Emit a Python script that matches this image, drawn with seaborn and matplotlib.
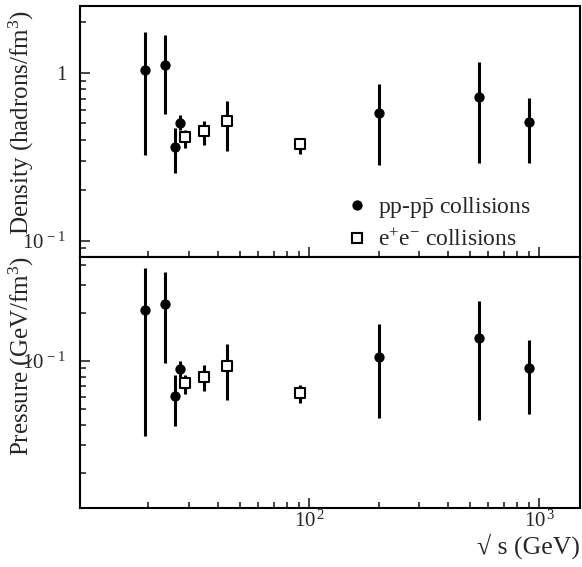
import matplotlib
matplotlib.use("Agg")
import matplotlib.pyplot as plt
from matplotlib.lines import Line2D
from matplotlib.ticker import FixedLocator, FixedFormatter, LogLocator, NullFormatter
import numpy as np
import pandas as pd
import seaborn as sns

# sqrt(s) in GeV
pp_energy = [19.4, 23.7, 26.0, 27.4, 200.0, 546.0, 900.0]
ee_energy = [29.0, 35.0, 44.0, 91.0]

# density (hadrons/fm^3): central value, lower and upper end of the error bar
pp_density = [1.04, 1.12, 0.362, 0.502, 0.575, 0.721, 0.506]
pp_density_lo = [0.323, 0.567, 0.254, 0.458, 0.282, 0.291, 0.291]
pp_density_hi = [1.75, 1.67, 0.471, 0.557, 0.857, 1.157, 0.706]
ee_density = [0.412, 0.448, 0.513, 0.377]
ee_density_lo = [0.357, 0.373, 0.341, 0.329]
ee_density_hi = [0.458, 0.518, 0.68, 0.409]

# pressure (GeV/fm^3)
pp_pressure = [0.208, 0.229, 0.0607, 0.0891, 0.1064, 0.1405, 0.0908]
pp_pressure_lo = [0.034, 0.0967, 0.0393, 0.0798, 0.0438, 0.0428, 0.0464]
pp_pressure_hi = [0.385, 0.361, 0.0818, 0.1005, 0.170, 0.238, 0.135]
ee_pressure = [0.0726, 0.0798, 0.0934, 0.0628]
ee_pressure_lo = [0.0622, 0.065, 0.057, 0.0544]
ee_pressure_hi = [0.0818, 0.0944, 0.129, 0.0708]

# ticks
energy_ticks = [100, 1000]
energy_ticklabels = [r'$10^{\,2}$', r'$10^{\,3}$']
density_ticks = [0.1, 1]
density_ticklabels = [r'$10^{\,-1}$', '1']
pressure_ticks = [0.1]
pressure_ticklabels = [r'$10^{\,-1}$']

sns.set_style("ticks")
plt.rcParams['font.family'] = ['Liberation Serif', 'DejaVu Serif']
plt.rcParams['mathtext.fontset'] = 'custom'
plt.rcParams['mathtext.rm'] = 'Liberation Serif'
plt.rcParams['mathtext.it'] = 'Liberation Serif:italic'
plt.rcParams['mathtext.bf'] = 'Liberation Serif:bold'


def draw_panel(ax, pp_y, pp_lo, pp_hi, ee_y, ee_lo, ee_hi):
    pp = pd.DataFrame({'energy': pp_energy, 'y': pp_y, 'lo': pp_lo, 'hi': pp_hi})
    ee = pd.DataFrame({'energy': ee_energy, 'y': ee_y, 'lo': ee_lo, 'hi': ee_hi})
    for df in (pp, ee):
        yerr = [df['y'] - df['lo'], df['hi'] - df['y']]
        ax.errorbar(df['energy'], df['y'], yerr=yerr, fmt='none', ecolor='black',
                    elinewidth=2.2, capsize=0, zorder=2)
    sns.scatterplot(data=pp, x='energy', y='y', ax=ax, marker='o', s=55,
                    color='black', linewidth=0, legend=False, zorder=3)
    sns.scatterplot(data=ee, x='energy', y='y', ax=ax, marker='s', s=44,
                    facecolor='white', edgecolor='black', linewidth=1.5,
                    legend=False, zorder=3)
    ax.set_xscale('log')
    ax.set_yscale('log')
    ax.set_xlim(10.1, 1500)
    ax.xaxis.set_major_locator(FixedLocator(energy_ticks))
    ax.xaxis.set_minor_locator(LogLocator(base=10, subs=np.arange(2, 10), numticks=20))
    ax.yaxis.set_minor_locator(LogLocator(base=10, subs=np.arange(2, 10), numticks=20))
    ax.xaxis.set_minor_formatter(NullFormatter())
    ax.yaxis.set_minor_formatter(NullFormatter())
    ax.tick_params(which='both', direction='in', top=False, right=False, width=1.2,
                   labelsize=15)
    ax.tick_params(which='major', length=7.5)
    ax.tick_params(which='minor', length=4.5)
    ax.tick_params(axis='y', which='major', pad=10)
    ax.tick_params(axis='x', which='major', pad=2)
    for sp in ax.spines.values():
        sp.set_linewidth(1.5)
        sp.set_color('black')
    ax.set_xlabel('')


fig = plt.figure(figsize=(5.82, 5.67), dpi=100)
ax_top = fig.add_axes([80 / 582, 310 / 567, 500 / 582, 251 / 567])
ax_bot = fig.add_axes([80 / 582, 59 / 567, 500 / 582, 251 / 567])

draw_panel(ax_top, pp_density, pp_density_lo, pp_density_hi,
           ee_density, ee_density_lo, ee_density_hi)
draw_panel(ax_bot, pp_pressure, pp_pressure_lo, pp_pressure_hi,
           ee_pressure, ee_pressure_lo, ee_pressure_hi)

ax_top.set_ylim(0.08, 2.5)
ax_top.yaxis.set_major_locator(FixedLocator(density_ticks))
ax_top.yaxis.set_major_formatter(FixedFormatter(density_ticklabels))
ax_top.tick_params(axis='x', labelbottom=False)
ax_top.set_ylabel(r'Density (hadrons/fm$^{3}$)', fontsize=18)
ax_top.yaxis.set_label_coords(-0.088, 0.536)

ax_bot.set_ylim(0.012, 0.45)
ax_bot.yaxis.set_major_locator(FixedLocator(pressure_ticks))
ax_bot.yaxis.set_major_formatter(FixedFormatter(pressure_ticklabels))
ax_bot.xaxis.set_major_formatter(FixedFormatter(energy_ticklabels))
ax_bot.set_ylabel(r'Pressure (GeV/fm$^{3}$)', fontsize=18)
ax_bot.yaxis.set_label_coords(-0.088, 0.607)
ax_bot.set_xlabel('\u221a s (GeV)', fontsize=18.5, loc='right', labelpad=1)

handles = [Line2D([0], [0], ls='none', marker='o', markersize=7.4, color='black', mew=0),
           Line2D([0], [0], ls='none', marker='s', markersize=6.6, markerfacecolor='white',
                  markeredgecolor='black', mew=1.5)]
ax_top.legend(handles, [r'pp-p$\bar{\mathrm{p}}$ collisions', r'e$^{+}$e$^{-}$ collisions'],
              loc='center left', bbox_to_anchor=(0.53, 0.135), frameon=False,
              fontsize=17, handlelength=1.0, handletextpad=0.4, borderpad=0,
              borderaxespad=0, labelspacing=0.4)

fig.savefig('out.png', dpi=100)
